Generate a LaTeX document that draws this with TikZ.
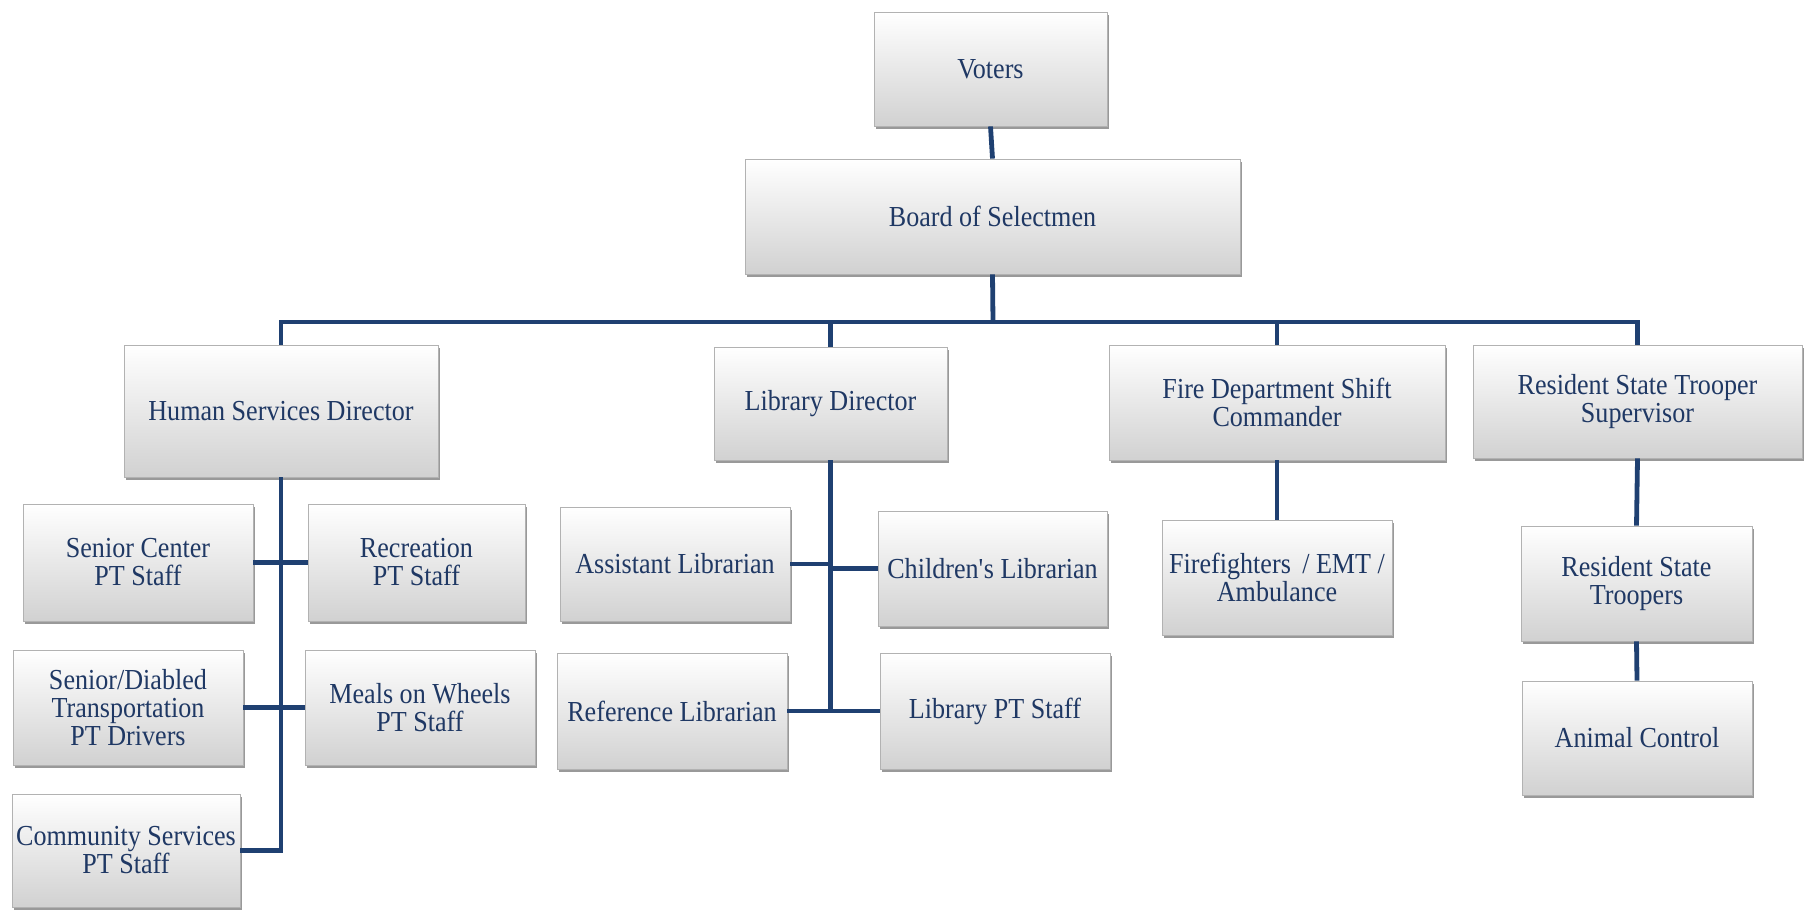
\documentclass[tikz,border=0pt]{standalone}
\usepackage{fontspec}
\setmainfont[FakeStretch=0.9]{Liberation Serif}
\usetikzlibrary{shadows}
\definecolor{txtblue}{RGB}{31,56,100}
\definecolor{lineblue}{RGB}{31,64,113}
\tikzset{
  x=0.5pt, y=-0.5pt,
  box/.style={inner sep=0pt, align=center, text=txtblue,
    font=\fontsize{14.5}{14}\selectfont,
    top color=white, bottom color=gray!36, draw=gray!60, line width=0.4pt,
    drop shadow={shadow xshift=0.8pt, shadow yshift=-1.4pt, opacity=0.4, fill=black}},
  conn/.style={draw=lineblue, line width=2.4pt}
}
\newcommand\bx[6]{%
  \pgfmathsetmacro\bxcx{(#2+#4)/2}%
  \pgfmathsetmacro\bxcy{(#3+#5)/2}%
  \pgfmathsetmacro\bxw{(#4-#2)/2}%
  \pgfmathsetmacro\bxh{(#5-#3)/2}%
  \node[box, minimum width=\bxw pt, minimum height=\bxh pt] (#1) at (\bxcx,\bxcy) {#6};}
\begin{document}
\begin{tikzpicture}
\useasboundingbox (0,0) rectangle (1804,910);
\bx{voters}{874}{12}{1107}{126}{Voters}
\bx{board}{745}{159}{1240}{274}{Board of Selectmen}
\bx{hsd}{124}{345}{438}{477}{Human Services Director}
\bx{lib}{714}{347}{947}{460}{Library Director}
\bx{fire}{1109}{345}{1445}{460}{Fire Department Shift\\Commander}
\bx{rsts}{1473}{345}{1802}{458}{Resident State Trooper\\Supervisor}
\bx{sc}{23}{504}{253}{621}{Senior Center\\PT Staff}
\bx{rec}{308}{504}{525}{621}{Recreation\\PT Staff}
\bx{sdt}{13}{650}{243}{765}{Senior/Diabled\\Transportation\\PT Drivers}
\bx{mow}{305}{650}{535}{765}{Meals on Wheels\\PT Staff}
\bx{comm}{12}{794}{240}{907}{Community Services\\PT Staff}
\bx{asst}{560}{507}{790}{621}{Assistant Librarian}
\bx{child}{878}{511}{1107}{626}{Children\textquotesingle s Librarian}
\bx{ref}{557}{653}{787}{769}{Reference Librarian}
\bx{lpt}{880}{653}{1110}{769}{Library PT Staff}
\bx{ff}{1162}{520}{1392}{635}{Firefighters\, / EMT /\\Ambulance}
\bx{rst}{1521}{526}{1752}{641}{Resident State\\Troopers}
\bx{ac}{1522}{681}{1752}{795}{Animal Control}
\coordinate (bus) at (993,322);
\draw[conn] (voters.south) -- (board.north);
\draw[conn] (board.south) -- (bus);
\draw[conn] (hsd.north) |- (bus) -| (rsts.north);
\draw[conn] (lib.north) -- (lib.north |- bus);
\draw[conn] (fire.north) -- (fire.north |- bus);
\draw[conn] (hsd.south) |- (comm.east);
\draw[conn] (sc.east) -- (rec.west);
\draw[conn] (sdt.east) -- (mow.west);
\draw[conn] (lib.south) |- (ref.east);
\draw[conn] (ref.east) -- (lpt.west);
\draw[conn] (asst.east) -- (asst.east -| lib.south);
\draw[conn] (child.west) -- (child.west -| lib.south);
\draw[conn] (fire.south) -- (ff.north);
\draw[conn] (rsts.south) -- (rst.north);
\draw[conn] (rst.south) -- (ac.north);
\end{tikzpicture}
\end{document}
